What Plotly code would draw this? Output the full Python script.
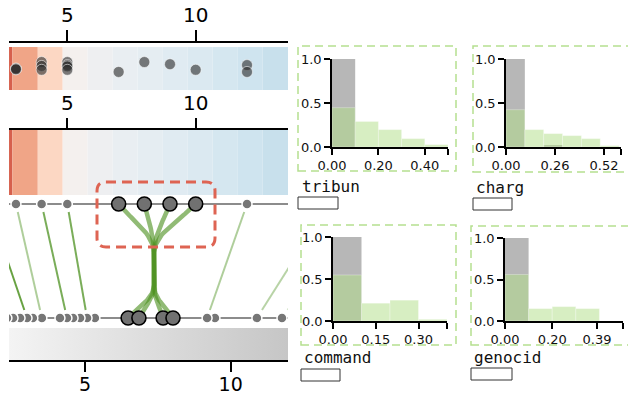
import plotly.graph_objects as go

W, H = 628, 395

# ---------------- data ----------------
top_ticks = [5, 10]
strip_edges = [2.73, 2.86, 3.85, 4.82, 5.79, 6.77, 7.74, 8.72, 9.69, 10.66, 11.64, 12.61, 13.60]
strip_colors = ['#d6604d', '#f0a587', '#fcd7c3', '#f4f0ee', '#eeeff1', '#e9eef2', '#e5edf2',
                '#e0ebf2', '#dbe9f1', '#d5e7f0', '#cfe4ef', '#c8e0ec']

top_dot_x = [3, 3, 3, 4, 4, 4, 5, 5, 5, 5, 7, 8, 9, 10, 12, 12]
top_dot_y = [0.49, 0.50, 0.48, 0.65, 0.56, 0.47, 0.65, 0.58, 0.55, 0.47, 0.42, 0.65, 0.60, 0.47,
             0.58, 0.42]

mid_small_x = [3, 4, 5, 12]
mid_sel_x = [7, 8, 9, 10]

bot_small_x = [2.32, 2.53, 2.77, 3.01, 3.21, 3.52, 4.14, 4.38, 4.59, 4.83, 5.07, 5.34,
               9.19, 9.46, 10.90, 11.76]
bot_sel_x = [6.48, 6.85, 7.68, 8.02]

link_top = [1.92, 3, 4, 5, 12, 15.2, 16.5]
link_bot = [3.01, 3.52, 4.38, 5.07, 9.19, 10.90, 11.76]
link_alpha = [0.85, 0.45, 0.75, 0.75, 0.45, 0.4, 0.25]

bundle_top = [7, 8, 9, 10]
bundle_bot = [6.48, 6.85, 7.68, 8.02]

hist_names = ['tribun', 'charg', 'command', 'genocid']
hist_gray = [[1.0], [1.0, 0.0, 0.015], [1.0], [1.0]]
hist_green = [[0.447, 0.29, 0.197, 0.095, 0.027],
              [0.424, 0.197, 0.152, 0.129, 0.095, 0.015],
              [0.548, 0.212, 0.248, 0.02],
              [0.56, 0.149, 0.173, 0.149]]
hist_xmax = [0.5, 0.61, 0.4, 0.5]
hist_ticks = [[0, 0.2, 0.4], [0, 0.26, 0.52], [0, 0.15, 0.30], [0, 0.20, 0.39]]
hist_labels = [['0.00', '0.20', '0.40'], ['0.00', '0.26', '0.52'],
               ['0.00', '0.15', '0.30'], ['0.00', '0.20', '0.39']]
bin_w = 0.1

# ---------------- layout geometry (pixels) ----------------
T_RANGE = [2.729, 13.596]
B_RANGE = [2.391, 11.967]
LEFT, RIGHT = 9, 288
hist_box = [  # x0, x1, y_top, y_bottom of plotting area
    (332, 448, 59, 147), (506, 621, 59, 147), (333, 447, 237, 321), (505, 623, 238, 321)]
hist_border = [(298, 456, 46, 171), (473, 640, 46, 172), (301, 456, 225, 345), (471, 640, 226, 345)]
label_pos = [(300, 186), (474, 187), (302, 357), (472, 357)]
swatch = [(298, 338, 197, 209), (473, 512, 198, 210), (301, 340, 369, 381), (471, 512, 368, 380)]


def px_x(p):
    return p / W


def px_y(p):
    return 1 - p / H


def to_top(b):
    return T_RANGE[0] + (b - B_RANGE[0]) * (T_RANGE[1] - T_RANGE[0]) / (B_RANGE[1] - B_RANGE[0])


def bez(p0, p1, p2, p3, n=24):
    xs, ys = [], []
    for i in range(n + 1):
        t = i / n
        a, b, c, d = (1 - t) ** 3, 3 * (1 - t) ** 2 * t, 3 * (1 - t) * t ** 2, t ** 3
        xs.append(a * p0[0] + b * p1[0] + c * p2[0] + d * p3[0])
        ys.append(a * p0[1] + b * p1[1] + c * p2[1] + d * p3[1])
    return xs, ys


fig = go.Figure()
GREEN = (77, 146, 33)

# ---- colour strips ----
centers = [(a + b) / 2 for a, b in zip(strip_edges[:-1], strip_edges[1:])]
widths = [b - a for a, b in zip(strip_edges[:-1], strip_edges[1:])]
for xa, ya in [('x', 'y'), ('x2', 'y2')]:
    fig.add_trace(go.Bar(x=centers, y=[1] * len(centers), width=widths,
                         marker=dict(color=strip_colors, line=dict(width=0)),
                         xaxis=xa, yaxis=ya, hoverinfo='skip'))

# ---- dots in top strip ----
fig.add_trace(go.Scatter(x=top_dot_x, y=top_dot_y, mode='markers',
                         marker=dict(size=11, color='rgba(45,45,45,0.62)',
                                     line=dict(color='rgba(255,255,255,0.55)', width=1)),
                         xaxis='x', yaxis='y', hoverinfo='skip'))

# ---- links ----
y_s, y_e = 0.93, 0.07
for xt, xb, al in zip(link_top, link_bot, link_alpha):
    xbt = to_top(xb)
    xs = [xbt + (xt - xbt) * y_s, xbt + (xt - xbt) * y_e]
    fig.add_trace(go.Scatter(x=xs, y=[y_s, y_e], mode='lines',
                             line=dict(color='rgba(%d,%d,%d,%.2f)' % (GREEN + (al,)), width=2),
                             xaxis='x3', yaxis='y3', hoverinfo='skip'))

all_ends = bundle_top + [to_top(v) for v in bundle_bot]
xc = sum(all_ends) / len(all_ends)
for xt, xb in zip(bundle_top, bundle_bot):
    xbt = to_top(xb)
    x1, y1 = bez((xt, 1.0), (xt + 0.35 * (xc - xt), 0.86), (xc, 0.75), (xc, 0.56))
    x2, y2 = bez((xc, 0.29), (xc, 0.16), (xbt + 0.35 * (xc - xbt), 0.10), (xbt, 0.0))
    fig.add_trace(go.Scatter(x=x1 + x2, y=y1 + y2, mode='lines',
                             line=dict(color='rgba(%d,%d,%d,0.62)' % GREEN, width=4.5),
                             xaxis='x3', yaxis='y3', hoverinfo='skip'))

# ---- row lines ----
for yy in [1, 0]:
    fig.add_trace(go.Scatter(x=T_RANGE, y=[yy, yy], mode='lines',
                             line=dict(color='#8c8c8c', width=2),
                             xaxis='x3', yaxis='y3', hoverinfo='skip'))

# ---- row dots ----
fig.add_trace(go.Scatter(x=mid_small_x, y=[1] * len(mid_small_x), mode='markers',
                         marker=dict(size=10, color='#767676', line=dict(color='white', width=1.5)),
                         xaxis='x3', yaxis='y3', hoverinfo='skip'))
fig.add_trace(go.Scatter(x=mid_sel_x, y=[1] * len(mid_sel_x), mode='markers',
                         marker=dict(size=14, color='#717171', line=dict(color='black', width=1.6)),
                         xaxis='x3', yaxis='y3', hoverinfo='skip'))
bs = sorted(bot_small_x, reverse=True)
fig.add_trace(go.Scatter(x=[to_top(v) for v in bs], y=[0] * len(bs), mode='markers',
                         marker=dict(size=10, color='#767676', line=dict(color='white', width=1.5)),
                         xaxis='x3', yaxis='y3', hoverinfo='skip'))
fig.add_trace(go.Scatter(x=[to_top(v) for v in bot_sel_x], y=[0] * len(bot_sel_x), mode='markers',
                         marker=dict(size=14, color='#717171', line=dict(color='black', width=1.6)),
                         xaxis='x3', yaxis='y3', hoverinfo='skip'))

# ---- bottom gradient bar ----
fig.add_trace(go.Scatter(x=[B_RANGE[0], B_RANGE[1], B_RANGE[1], B_RANGE[0], B_RANGE[0]],
                         y=[0, 0, 1, 1, 0], mode='lines', line=dict(width=0), fill='toself',
                         fillgradient=dict(type='horizontal',
                                           colorscale=[[0, '#f4f4f4'], [1, '#c6c6c6']]),
                         xaxis='x4', yaxis='y4', hoverinfo='skip'))

# ---- histograms ----
for i in range(4):
    xa, ya = 'x%d' % (5 + i), 'y%d' % (5 + i)
    g = hist_gray[i]
    fig.add_trace(go.Bar(x=[bin_w * (k + 0.5) for k in range(len(g))], y=g, width=bin_w,
                         marker=dict(color='#b7b7b7', line=dict(width=0)),
                         xaxis=xa, yaxis=ya, hoverinfo='skip'))
    gr = hist_green[i]
    fig.add_trace(go.Bar(x=[bin_w * (k + 0.5) for k in range(len(gr))], y=gr, width=bin_w,
                         marker=dict(color='rgba(178,223,138,0.52)',
                                     line=dict(width=0.6, color='rgba(255,255,255,0.5)')),
                         xaxis=xa, yaxis=ya, hoverinfo='skip'))

# ---------------- layout ----------------
big_font = dict(family='DejaVu Sans', size=20, color='black')
bot_font = dict(family='DejaVu Sans', size=19, color='black')
small_font = dict(family='DejaVu Sans', size=13, color='#111')
lay = dict(width=W, height=H, margin=dict(l=0, r=0, t=0, b=0, autoexpand=False), showlegend=False,
           paper_bgcolor='white', plot_bgcolor='rgba(0,0,0,0)', barmode='overlay')

xdom = [px_x(LEFT), px_x(RIGHT)]
common_big = dict(ticks='outside', tickwidth=2, showline=True, linewidth=2, linecolor='black',
                  tickcolor='black', showgrid=False, zeroline=False,
                  tickvals=top_ticks, automargin=False)
lay['xaxis'] = dict(domain=xdom, range=T_RANGE, anchor='y', side='top', ticklen=11,
                    tickfont=big_font, **common_big)
lay['yaxis'] = dict(domain=[px_y(90), px_y(43)], range=[0, 47 / 43], visible=False, anchor='x')
lay['xaxis2'] = dict(domain=xdom, range=T_RANGE, anchor='y2', side='top', ticklen=10,
                     tickfont=big_font, **common_big)
lay['yaxis2'] = dict(domain=[px_y(195), px_y(130)], range=[0, 1], visible=False, anchor='x2')
lay['xaxis3'] = dict(domain=xdom, range=T_RANGE, anchor='y3', visible=False)
lay['yaxis3'] = dict(domain=[px_y(326), px_y(196)], range=[-8 / 114, 1 + 8 / 114],
                     visible=False, anchor='x3')
lay['xaxis4'] = dict(domain=xdom, range=B_RANGE, anchor='y4', side='bottom', ticklen=10,
                     tickfont=bot_font, ticklabelstandoff=-4, **common_big)
lay['yaxis4'] = dict(domain=[px_y(360), px_y(328)], range=[0, 1], visible=False, anchor='x4')

for i in range(4):
    x0, x1, yt, yb = hist_box[i]
    n = 5 + i
    common = dict(ticks='outside', ticklen=6, tickwidth=1.5, showline=True, linewidth=1.5,
                  linecolor='black', tickcolor='black', showgrid=False, zeroline=False,
                  tickfont=small_font, automargin=False)
    lay['xaxis%d' % n] = dict(domain=[px_x(x0), px_x(x1)], range=[0, hist_xmax[i]],
                              anchor='y%d' % n, tickvals=hist_ticks[i] + [hist_xmax[i]],
                              ticktext=hist_labels[i] + [''], **common)
    lay['yaxis%d' % n] = dict(domain=[px_y(yb), px_y(yt)], range=[0, 1], anchor='x%d' % n,
                              tickvals=[0, 0.5, 1], ticktext=['0.0', '0.5', '1.0'], **common)

shapes = []
annotations = []
for i in range(4):
    bx0, bx1, by0, by1 = hist_border[i]
    shapes.append(dict(type='rect', xref='paper', yref='paper', x0=px_x(bx0), x1=px_x(bx1),
                       y0=px_y(by1), y1=px_y(by0),
                       line=dict(color='#b5df90', width=1.5, dash='8px,5px'), layer='below'))
    sx0, sx1, sy0, sy1 = swatch[i]
    shapes.append(dict(type='rect', xref='paper', yref='paper', x0=px_x(sx0), x1=px_x(sx1),
                       y0=px_y(sy1), y1=px_y(sy0), line=dict(color='#333', width=1)))
    lx, ly = label_pos[i]
    annotations.append(dict(text=hist_names[i], xref='paper', yref='paper', x=px_x(lx), y=px_y(ly),
                            xanchor='left', yanchor='middle', showarrow=False,
                            font=dict(family='DejaVu Sans Mono', size=16, color='#111')))

# red dashed rounded selection box
rx0, rx1, ry0, ry1, r = 97, 215, 182, 247, 9
pts = [('M', rx0 + r, ry0), ('L', rx1 - r, ry0), ('Q', rx1, ry0, rx1, ry0 + r), ('L', rx1, ry1 - r),
       ('Q', rx1, ry1, rx1 - r, ry1), ('L', rx0 + r, ry1), ('Q', rx0, ry1, rx0, ry1 - r),
       ('L', rx0, ry0 + r), ('Q', rx0, ry0, rx0 + r, ry0)]
path = ''
for p in pts:
    cmd = p[0]
    coords = p[1:]
    s = ' '.join('%.5f,%.5f' % (px_x(coords[k]), px_y(coords[k + 1])) for k in range(0, len(coords), 2))
    path += cmd + s + ' '
shapes.append(dict(type='path', xref='paper', yref='paper', path=path + 'Z',
                   line=dict(color='#de6453', width=3, dash='10px,6px')))

lay['shapes'] = shapes
lay['annotations'] = annotations
fig.update_layout(**lay)
fig.write_html('out.html')
